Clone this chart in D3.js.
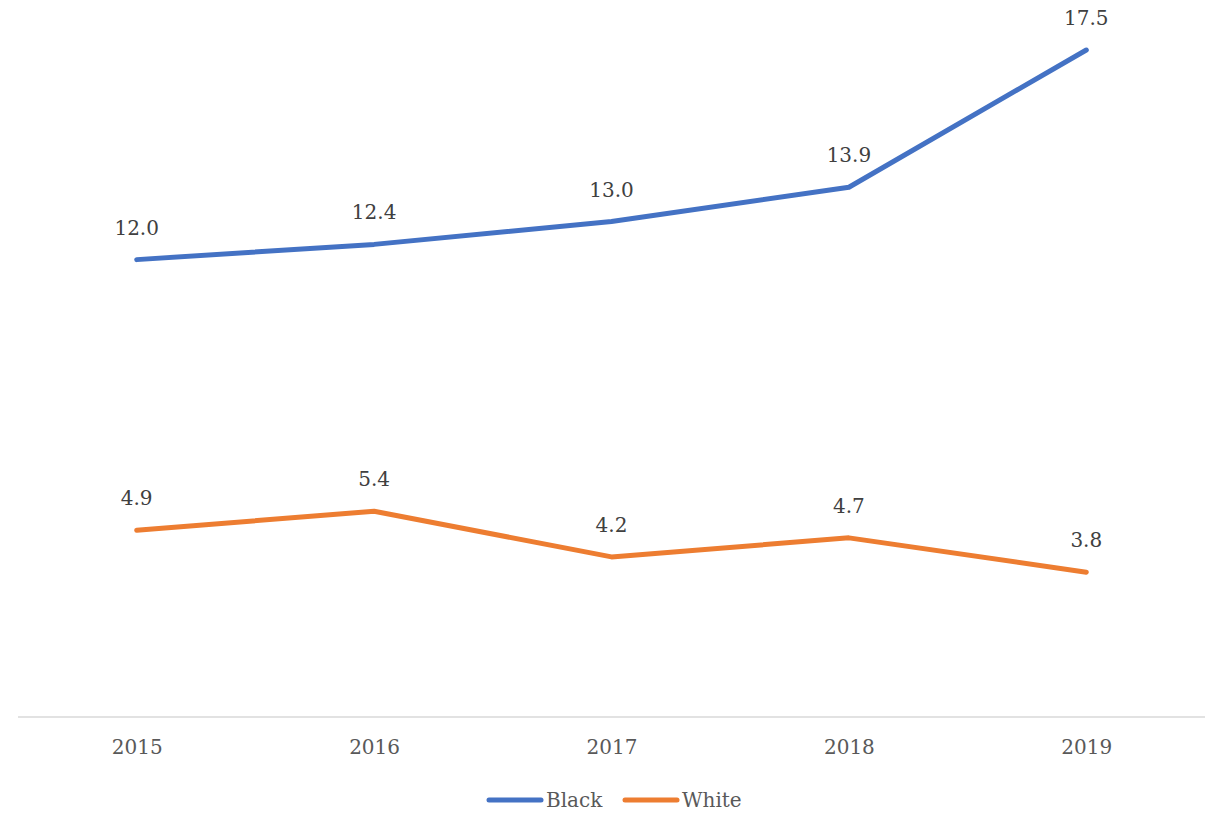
<!DOCTYPE html>
<html>
<head>
<meta charset="utf-8">
<script src="https://cdn.jsdelivr.net/npm/d3@7"></script>
<style>
  body { margin: 0; background: #fff; }
</style>
</head>
<body>
<div id="chart"></div>
<script>
// categories and series
const years = ["2015", "2016", "2017", "2018", "2019"];
const black = [12.0, 12.4, 13.0, 13.9, 17.5];
const white = [4.9, 5.4, 4.2, 4.7, 3.8];

const series = [
    {name: "Black", values: black, color: "#4472C4"},
    {name: "White", values: white, color: "#ED7D31"}
];

const width = 1210;
const height = 813;
const plotLeft = 18;
const plotRight = 1205;
const baseline = 717;
const font = "'DejaVu Serif', 'Liberation Serif', serif";

const svg = d3.select("#chart").append("svg")
    .attr("width", width)
    .attr("height", height)
    .style("font-family", font);

const x = d3.scalePoint().domain(years).range([plotLeft, plotRight]).padding(0.5);

// no y axis drawn; scale tuned to the picture
const y = d3.scaleLinear().domain([0, 17.5]).range([baseline, 50]);

// category axis
const xAxis = d3.axisBottom(x).tickSize(0).tickPadding(23);
const gX = svg.append("g")
    .attr("transform", `translate(0,${baseline})`)
    .call(xAxis);
gX.select(".domain").attr("stroke", "#d9d9d9").attr("stroke-width", 1.5)
    .attr("d", `M${plotLeft},0H${plotRight}`);
gX.selectAll("text")
    .attr("fill", "#595959")
    .style("font-family", font)
    .style("font-size", "20px");

const line = d3.line()
    .x((d, i) => x(years[i]))
    .y(d => y(d));

svg.selectAll("path.series")
    .data(series)
    .join("path")
        .attr("class", "series")
        .attr("fill", "none")
        .attr("stroke", d => d.color)
        .attr("stroke-width", 5)
        .attr("stroke-linecap", "round")
        .attr("stroke-linejoin", "round")
        .attr("d", d => line(d.values));

// data labels
series.forEach(s => {
    svg.append("g").selectAll("text")
        .data(s.values)
        .join("text")
            .attr("x", (d, i) => x(years[i]))
            .attr("y", d => y(d) - 25)
            .attr("text-anchor", "middle")
            .attr("fill", "#404040")
            .style("font-size", "20px")
            .text(d => d.toFixed(1));
});

// legend
const legend = svg.append("g").attr("transform", "translate(487,800)");
const legendItems = legend.selectAll("g")
    .data(series)
    .join("g")
        .attr("transform", (d, i) => `translate(${i * 136},0)`);
legendItems.append("line")
    .attr("x1", 2).attr("x2", 54)
    .attr("stroke", d => d.color)
    .attr("stroke-width", 5)
    .attr("stroke-linecap", "round");
legendItems.append("text")
    .attr("x", 59)
    .attr("y", 7)
    .attr("fill", "#595959")
    .style("font-size", "20px")
    .text(d => d.name);
</script>
</body>
</html>
